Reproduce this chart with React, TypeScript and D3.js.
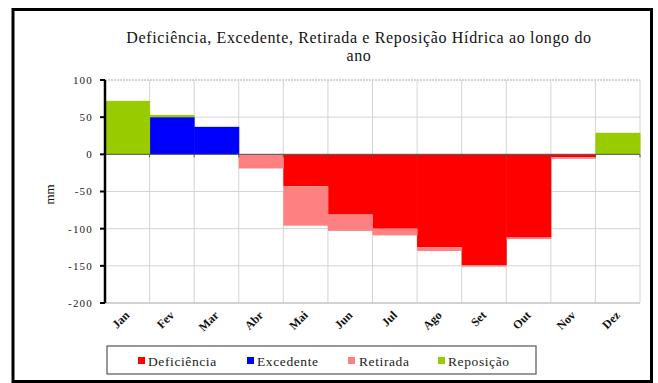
import React from "react";
import * as d3 from "d3";

const months = ["Jan", "Fev", "Mar", "Abr", "Mai", "Jun", "Jul", "Ago", "Set", "Out", "Nov", "Dez"];
const deficiencia = [0, 0, 0, 0, -43, -81, -100, -125, -149, -112, -4, 0];
const excedente = [0, 50, 37, 0, 0, 0, 0, 0, 0, 0, 0, 0];
const retirada = [0, 0, 0, -19, -53, -22, -9, -5, -2, -2, -2, 0];
const reposicao = [72, 3, 0, 0, 0, 0, 0, 0, 0, 0, 0, 29];
const yTicks = [100, 50, 0, -50, -100, -150, -200];
const seriesNames = ["Deficiência", "Excedente", "Retirada", "Reposição"];
const seriesColors = ["#FF0000", "#0000FF", "#FF8080", "#99CC00"];

const W = 658, H = 383;
const left = 105, right = 640, top = 80, bottom = 303;
const FONT = "Liberation Serif, DejaVu Serif, serif";

export default function App() {
  const keys = ["def", "exc", "ret", "rep"];
  const rows = months.map((m, i) => ({
    month: m,
    def: deficiencia[i],
    exc: excedente[i],
    ret: retirada[i],
    rep: reposicao[i],
  }));
  const stack = d3.stack<any>().keys(keys).offset(d3.stackOffsetDiverging);
  const series = stack(rows);
  const x = d3.scaleBand().domain(months).range([left, right]).padding(0);
  const y = d3.scaleLinear().domain([-200, 100]).range([bottom, top]);
  const bw = x.bandwidth();
  const boundaries = d3.range(months.length + 1).map((i) => left + i * bw);

  const legendItems = [
    { x: 138, tx: 148 },
    { x: 247, tx: 257 },
    { x: 348, tx: 359 },
    { x: 438, tx: 448 },
  ];
  const ft = { fontFamily: FONT };

  return (
    <svg width={W} height={H} style={{ position: "absolute", left: 0, top: 0, background: "#fff" }}>
      <rect x={0} y={0} width={W} height={H} fill="#fff" />
      {/* outer frame */}
      <rect x={13} y={9.5} width={638.5} height={372} fill="none" stroke="#000" strokeWidth={3} />
      {/* title */}
      <text x={359} y={43} textAnchor="middle" style={ft} fontSize={16} letterSpacing={0.65} fill="#111">
        Deficiência, Excedente, Retirada e Reposição Hídrica ao longo do
      </text>
      <text x={359} y={61} textAnchor="middle" style={ft} fontSize={16} letterSpacing={0.65} fill="#111">
        ano
      </text>
      {/* horizontal grid */}
      {yTicks.map((t) => (
        <line key={"g" + t} x1={left} x2={right} y1={y(t)} y2={y(t)}
          stroke={t === 100 ? "#aaa" : "#d4d4d4"} strokeWidth={1}
          strokeDasharray={t === 100 ? "2,1" : undefined} />
      ))}
      {/* vertical grid */}
      {boundaries.slice(1).map((b, i) => (
        <line key={"v" + i} x1={b} x2={b} y1={top} y2={bottom} stroke="#d4d4d4" strokeWidth={1} />
      ))}
      {/* bars */}
      {series.map((s, si) => (
        <g key={s.key} fill={seriesColors[si]}>
          {s.map((d, i) => {
            const y0 = y(Math.max(d[0], d[1]));
            const y1 = y(Math.min(d[0], d[1]));
            if (Math.abs(d[1] - d[0]) < 1e-9) return null;
            return <rect key={i} x={x(months[i])} y={y0} width={bw + 0.5} height={y1 - y0} />;
          })}
        </g>
      ))}
      {/* bottom line */}
      <line x1={left} x2={right} y1={bottom} y2={bottom} stroke="#bbb" strokeWidth={1} />
      {/* zero axis */}
      <line x1={left} x2={right} y1={y(0)} y2={y(0)} stroke="#555" strokeWidth={1} />
      {boundaries.map((b, i) => (
        <line key={"xt" + i} x1={b} x2={b} y1={y(0)} y2={y(0) + 3} stroke="#555" strokeWidth={1} />
      ))}
      {/* y axis */}
      <line x1={left} x2={left} y1={top} y2={bottom} stroke="#000" strokeWidth={2.5} />
      {yTicks.map((t) => (
        <g key={"yt" + t}>
          <line x1={left - 5} x2={left} y1={y(t)} y2={y(t)} stroke="#000" strokeWidth={2} />
          <text x={left - 12} y={y(t)} dy="0.35em" textAnchor="end" style={ft} fontSize={11}
            letterSpacing={1.2} fill="#222">
            {t}
          </text>
        </g>
      ))}
      <text transform={`translate(54,${(top + bottom) / 2 + 3}) rotate(-90)`} textAnchor="middle"
        style={ft} fontSize={13} fill="#111">mm</text>
      {/* x labels */}
      {months.map((m) => (
        <text key={m}
          transform={`translate(${(x(m) as number) + bw / 2 + 3},${bottom + 13}) rotate(-45)`}
          textAnchor="end" style={ft} fontSize={12} fontWeight="bold" fill="#111">
          {m}
        </text>
      ))}
      {/* legend */}
      <rect x={107} y={346} width={429} height={28} fill="#fff" stroke="#555" strokeWidth={1.2} />
      {seriesNames.map((n, i) => (
        <g key={n}>
          <rect x={legendItems[i].x} y={357} width={7} height={7} fill={seriesColors[i]} />
          <text x={legendItems[i].tx} y={361} dy="0.35em" style={ft} fontSize={13.5}
            letterSpacing={0.6} fill="#222">{n}</text>
        </g>
      ))}
    </svg>
  );
}
